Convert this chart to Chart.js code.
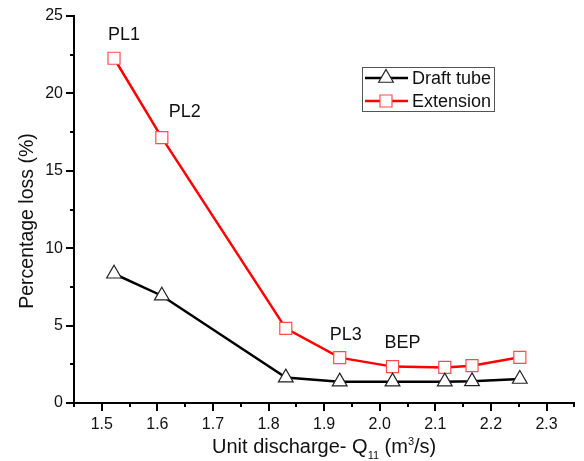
<!DOCTYPE html>
<html>
<head>
<meta charset="utf-8">
<script src="https://cdn.jsdelivr.net/npm/chart.js@4/dist/chart.umd.min.js"></script>
<style>
  html, body { margin: 0; padding: 0; background: #fff; }
  #wrap { width: 584px; height: 461px; }
</style>
</head>
<body>
<div id="wrap"><canvas id="chart" width="584" height="461"></canvas></div>
<script>
// unit discharge Q11 (m3/s)
const discharge = [1.522, 1.608, 1.831, 1.928, 2.023, 2.117, 2.166, 2.252];
// percentage loss (%)
const draftTube = [8.35, 6.93, 1.64, 1.38, 1.38, 1.38, 1.40, 1.55];
const extension = [22.27, 17.14, 4.82, 2.93, 2.35, 2.30, 2.41, 2.95];

const seriesNames = ["Draft tube", "Extension"];
const pointNotes = ["PL1", "PL2", "PL3", "BEP"];
const notePoints = [0, 1, 3, 4];

const xTitle = ["Unit discharge- Q", "11", " (m", "3", "/s)"];
const yTitle = "Percentage loss (%)";

const FONT = "'Liberation Sans', Arial, sans-serif";
const TXT = "#111";

function toXY(xs, ys) {
    return xs.map(function (x, i) { return { x: x, y: ys[i] }; });
}

// ticks, titles, notes and legend, Origin style
const decor = {
    id: "decor",
    afterDraw: function (chart) {
        var ctx = chart.ctx;
        var a = chart.chartArea;
        var xs = chart.scales.x, ys = chart.scales.y;
        ctx.save();

        // tick marks: long on labelled, short on the rest
        ctx.fillStyle = "#000";
        xs.ticks.forEach(function (t) {
            var major = Math.abs(t.value * 10 - Math.round(t.value * 10)) < 1e-6;
            var px = Math.round(xs.getPixelForValue(t.value));
            ctx.fillRect(px - 1, a.bottom, 2, major ? 8 : 4);
        });
        ys.ticks.forEach(function (t) {
            var major = t.value % 5 === 0;
            var py = Math.round(ys.getPixelForValue(t.value));
            ctx.fillRect(a.left - (major ? 8 : 4), py - 1, major ? 8 : 4, 2);
        });

        // y title
        ctx.fillStyle = TXT;
        ctx.save();
        ctx.translate(28, 221);
        ctx.rotate(-Math.PI / 2);
        ctx.font = "19.5px " + FONT;
        ctx.textAlign = "center";
        ctx.textBaseline = "middle";
        ctx.fillText(yTitle, 0, 0);
        ctx.restore();

        // x title with sub / superscript
        var big = "20px " + FONT, small = "11px " + FONT;
        var parts = [
            { t: xTitle[0], f: big, dy: 0 },
            { t: xTitle[1], f: small, dy: 6 },
            { t: xTitle[2], f: big, dy: 0 },
            { t: xTitle[3], f: small, dy: -8 },
            { t: xTitle[4], f: big, dy: 0 }
        ];
        var total = 0;
        parts.forEach(function (p) { ctx.font = p.f; p.w = ctx.measureText(p.t).width; total += p.w; });
        var cx = (a.left + a.right) / 2 - total / 2;
        var base = 453;
        ctx.textAlign = "left";
        ctx.textBaseline = "alphabetic";
        parts.forEach(function (p) {
            ctx.font = p.f;
            ctx.fillText(p.t, cx, base + p.dy);
            cx += p.w;
        });

        // point notes
        var meta = chart.getDatasetMeta(1);
        var offs = [[10, -23], [23, -26], [6, -23], [10, -24]];
        ctx.font = "18px " + FONT;
        ctx.textAlign = "center";
        ctx.textBaseline = "middle";
        pointNotes.forEach(function (txt, i) {
            var el = meta.data[notePoints[i]];
            ctx.fillText(txt, el.x + offs[i][0], el.y + offs[i][1]);
        });

        // legend box
        var lx = 362, ly = 67, lw = 132, lh = 44;
        ctx.strokeStyle = "#555";
        ctx.lineWidth = 1;
        ctx.strokeRect(lx + 0.5, ly + 0.5, lw, lh);
        var rows = [ly + 11, ly + 34];
        ctx.textAlign = "left";
        ctx.textBaseline = "middle";
        chart.data.datasets.forEach(function (ds, i) {
            var ry = rows[i];
            ctx.strokeStyle = ds.borderColor;
            ctx.lineWidth = ds.borderWidth;
            ctx.beginPath();
            ctx.moveTo(lx + 3, ry);
            ctx.lineTo(lx + 46, ry);
            ctx.stroke();
            ctx.fillStyle = "#fff";
            ctx.strokeStyle = ds.pointBorderColor;
            ctx.lineWidth = ds.pointBorderWidth;
            Chart.helpers.drawPoint(ctx, {
                pointStyle: ds.pointStyle,
                radius: ds.pointRadius,
                borderWidth: ds.pointBorderWidth
            }, lx + 24, ry);
            ctx.fillStyle = TXT;
            ctx.font = "18px " + FONT;
            ctx.fillText(seriesNames[i], lx + 50, ry + 1);
        });

        ctx.restore();
    }
};

new Chart(document.getElementById("chart"), {
    type: "line",
    data: {
        datasets: [
            {
                label: seriesNames[0],
                data: toXY(discharge, draftTube),
                borderColor: "#000",
                borderWidth: 2.5,
                pointStyle: "triangle",
                pointRadius: 8.5,
                pointBackgroundColor: "#fff",
                pointBorderColor: "#222",
                pointBorderWidth: 1.2,
                tension: 0
            },
            {
                label: seriesNames[1],
                data: toXY(discharge, extension),
                borderColor: "#ff0000",
                borderWidth: 2.5,
                pointStyle: "rect",
                pointRadius: 8.5,
                pointBackgroundColor: "#fff",
                pointBorderColor: "#ff4d4d",
                pointBorderWidth: 1.2,
                tension: 0
            }
        ]
    },
    options: {
        responsive: false,
        animation: false,
        layout: { padding: { top: 16, right: 7, left: 0, bottom: 0 } },
        plugins: {
            legend: { display: false },
            tooltip: { enabled: false }
        },
        scales: {
            x: {
                type: "linear",
                min: 1.45,
                max: 2.35,
                afterFit: function (s) { s.height = 58; },
                grid: { drawOnChartArea: false, drawTicks: true, tickLength: 8, tickColor: "rgba(0,0,0,0)" },
                border: { display: true, color: "#000", width: 2 },
                ticks: {
                    stepSize: 0.05,
                    padding: 4,
                    maxRotation: 0,
                    autoSkip: false,
                    color: TXT,
                    font: { family: FONT, size: 16 },
                    callback: function (v) {
                        return Math.abs(v * 10 - Math.round(v * 10)) < 1e-6 ? v.toFixed(1) : "";
                    }
                }
            },
            y: {
                min: 0,
                max: 25,
                afterFit: function (s) { s.width = 74; },
                grid: { drawOnChartArea: false, drawTicks: true, tickLength: 8, tickColor: "rgba(0,0,0,0)" },
                border: { display: true, color: "#000", width: 2 },
                ticks: {
                    stepSize: 2.5,
                    padding: 3,
                    color: TXT,
                    font: { family: FONT, size: 16 },
                    callback: function (v) { return v % 5 === 0 ? String(v) : ""; }
                }
            }
        }
    },
    plugins: [decor]
});
</script>
</body>
</html>
